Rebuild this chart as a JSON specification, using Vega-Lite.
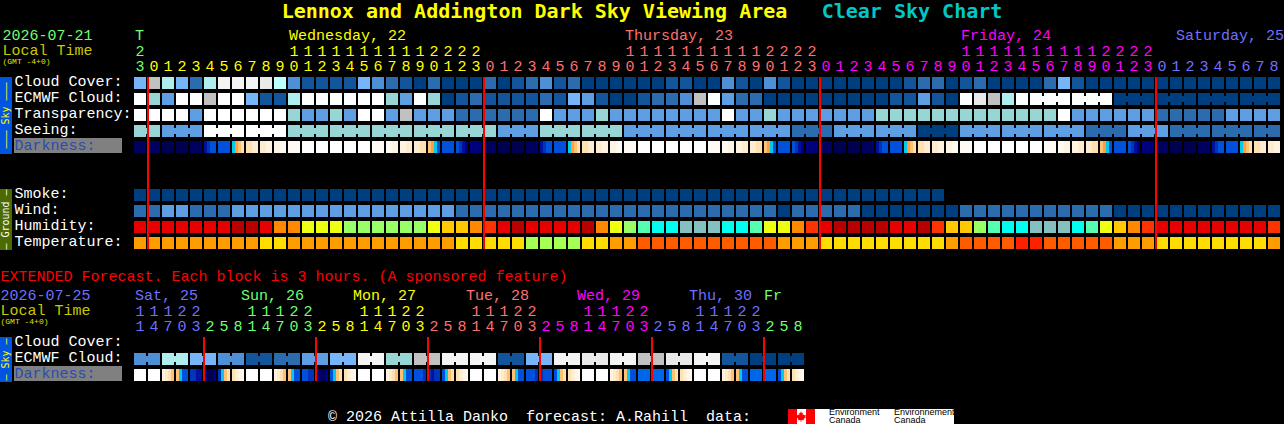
{"$schema":"https://vega.github.io/schema/vega-lite/v6.json","width":1284,"height":424,"padding":0,"autosize":"none","background":"#000000","config":{"view":{"stroke":null}},
"encoding":{"color":{"field":"level","type":"nominal","legend":null,"scale":{"domain":["a","b","c","d","e","f","g","h","i","w","x","y","z","r","R","O","A","Y","G","S","C","T","Q","t1","t2","t3","t4","t5","n0","n1","n2","n3","b1","b2","b3","k","o1","o2","c1","c2","c3","c4","lime","yellow","salmon","magenta","periw","red","cyan","gray","skybar","groundbar","white","ink"],"range":["#003f7f","#13559a","#2a6cad","#4e90d5","#5e9fe3","#76b6f8","#98d6d6","#aeeeee","#bdffff","#ffffff","#f4f4f4","#e9e9e9","#c1c1c1","#e60000","#b80000","#ff8800","#ffc800","#eeff10","#99ff66","#55ffb0","#00ffee","#84c0c0","#ff3300","#ff9c00","#ffdd00","#a6ff55","#ff5c00","#ff2000","#000050","#00005e","#00007e","#0010a0","#0050dc","#0034b8","#0066e8","#00c8f0","#ffa030","#ffc070","#ffe0b0","#ffecd0","#fff3e2","#fffaf3","#70ff70","#ffff00","#ff7070","#ff00ff","#7070ff","#ff0000","#00c8c8","#808080","#0055e0","#4d6a00","#ffffff","#000000"]}}},
"resolve":{"scale":{"x":"independent","y":"independent"}},
"layer":[
{"data":{"values":[{"label":"Darkness:","level":"gray"}]},"mark":"rect","encoding":{"x":{"field":"label","type":"nominal","axis":null,"scale":{"type":"band","range":[14,122],"padding":0}},"y":{"field":"label","type":"nominal","axis":null,"scale":{"type":"band","range":[138,153],"padding":0}}}},
{"data":{"values":[{"label":"Darkness:","level":"gray"}]},"mark":"rect","encoding":{"x":{"field":"label","type":"nominal","axis":null,"scale":{"type":"band","range":[14,122],"padding":0}},"y":{"field":"label","type":"nominal","axis":null,"scale":{"type":"band","range":[366,381],"padding":0}}}},
{"data":{"name":"main"},"mark":"rect","encoding":{"x":{"field":"col","type":"ordinal","scale":{"type":"band","range":[134,1280],"paddingInner":0.142857142857,"paddingOuter":0},"axis":{"orient":"top","offset":-65,"title":null,"domain":false,"ticks":false,"tickSize":0,"grid":false,"zindex":1,"labelAngle":0,"labelBaseline":"middle","labelAlign":"center","labelPadding":0,"labelFont":"Liberation Mono","labelFontSize":15,"labelOverlap":false,"labelExpr":"''+(((datum.value+23)%24)%10)","labelColor":{"condition":[{"test":"datum.value<1","value":"#70ff70"},{"test":"datum.value<25","value":"#ffff00"},{"test":"datum.value<49","value":"#ff7070"},{"test":"datum.value<73","value":"#ff00ff"}],"value":"#7070ff"}}},"y":{"field":"row","type":"nominal","scale":{"type":"band","domain":["cloud","ecmwf","transp","seeing","dark","gap1","gap2","smoke","wind","humid","temp"],"range":[77,249],"paddingInner":0.25,"paddingOuter":0},"axis":{"orient":"left","title":null,"domain":false,"ticks":false,"tickSize":0,"grid":false,"zindex":1,"labelAlign":"left","labelBaseline":"middle","labelPadding":-14,"labelOffset":-2,"labelFont":"Liberation Mono","labelFontSize":15,"labelOverlap":false,"values":["cloud","ecmwf","transp","seeing","dark","smoke","wind","humid","temp"],"labelExpr":"{'cloud':'Cloud Cover:','ecmwf':'ECMWF Cloud:','transp':'Transparency:','seeing':'Seeing:','dark':'Darkness:','smoke':'Smoke:','wind':'Wind:','humid':'Humidity:','temp':'Temperature:'}[datum.value]","labelColor":{"condition":{"test":"datum.value=='dark'","value":"#2a4bb0"},"value":"#ffffff"}}}}},
{"data":{"name":"mainSlices"},"mark":"rect","encoding":{"x":{"field":"col","type":"ordinal","scale":{"type":"band","domain":[0,1,2,3,4,5,6,7,8,9,10,11,12,13,14,15,16,17,18,19,20,21,22,23,24,25,26,27,28,29,30,31,32,33,34,35,36,37,38,39,40,41,42,43,44,45,46,47,48,49,50,51,52,53,54,55,56,57,58,59,60,61,62,63,64,65,66,67,68,69,70,71,72,73,74,75,76,77,78,79,80,81],"range":[134,1280],"paddingInner":0.142857142857,"paddingOuter":0},"axis":{"orient":"top","offset":-50,"title":null,"domain":false,"ticks":false,"tickSize":0,"grid":false,"zindex":1,"labelAngle":0,"labelBaseline":"middle","labelAlign":"center","labelPadding":0,"labelFont":"Liberation Mono","labelFontSize":15,"labelOverlap":false,"values":[0,11,12,13,14,15,16,17,18,19,20,21,22,23,24,35,36,37,38,39,40,41,42,43,44,45,46,47,48,59,60,61,62,63,64,65,66,67,68,69,70,71,72],"labelExpr":"''+floor(((datum.value+23)%24)/10)","labelColor":{"condition":[{"test":"datum.value<1","value":"#70ff70"},{"test":"datum.value<25","value":"#ffff00"},{"test":"datum.value<49","value":"#ff7070"},{"test":"datum.value<73","value":"#ff00ff"}],"value":"#7070ff"}}},"xOffset":{"field":"slice","type":"ordinal"},"y":{"datum":"dark","type":"nominal","axis":null,"scale":{"type":"band","domain":["dark"],"range":[141,153],"padding":0}}}},
{"data":{"name":"main"},"transform":[{"filter":"(datum.row=='seeing'&&datum.col%3!=1&&datum.col<81)||(datum.row=='ecmwf'&&datum.col>=64&&datum.col<81&&datum.col%3!=0)"}],"mark":{"type":"tick","orient":"vertical","thickness":2,"height":6,"opacity":1},"encoding":{"x":{"field":"col","type":"quantitative","axis":null,"scale":{"domain":[0,81],"range":[147,1281],"nice":false}},"y":{"field":"row","type":"nominal","axis":null,"scale":{"type":"band","domain":["cloud","ecmwf","transp","seeing","dark","gap1","gap2","smoke","wind","humid","temp"],"range":[77,249],"paddingInner":0.25,"paddingOuter":0}}}},
{"data":{"values":[{"col":1,"level":"red"},{"col":25,"level":"red"},{"col":49,"level":"red"},{"col":73,"level":"red"}]},"mark":{"type":"tick","orient":"vertical","thickness":2,"height":172,"opacity":1},"encoding":{"x":{"field":"col","type":"quantitative","axis":null,"scale":{"domain":[0,81],"range":[134,1268],"nice":false}},"y":{"datum":"main","type":"nominal","axis":null,"scale":{"type":"band","domain":["main"],"range":[77,249],"padding":0}}}},
{"data":{"name":"ext"},"mark":"rect","encoding":{"x":{"field":"col","type":"ordinal","scale":{"type":"band","domain":[0,1,2,3,4,5,6,7,8,9,10,11,12,13,14,15,16,17,18,19,20,21,22,23,24,25,26,27,28,29,30,31,32,33,34,35,36,37,38,39,40,41,42,43,44,45,46,47],"range":[134,804],"paddingInner":0.142857142857,"paddingOuter":0},"axis":{"orient":"top","offset":-325,"title":null,"domain":false,"ticks":false,"tickSize":0,"grid":false,"zindex":1,"labelAngle":0,"labelBaseline":"middle","labelAlign":"center","labelPadding":0,"labelFont":"Liberation Mono","labelFontSize":15,"labelOverlap":false,"labelExpr":"''+(((11+3*datum.value)%24)%10)","labelColor":{"condition":[{"test":"datum.value<5","value":"#7070ff"},{"test":"datum.value<13","value":"#70ff70"},{"test":"datum.value<21","value":"#ffff00"},{"test":"datum.value<29","value":"#ff7070"},{"test":"datum.value<37","value":"#ff00ff"},{"test":"datum.value<45","value":"#7070ff"}],"value":"#70ff70"}}},"y":{"field":"row","type":"nominal","scale":{"type":"band","domain":["cloud","ecmwf","dark"],"range":[337,381],"paddingInner":0.25,"paddingOuter":0},"axis":{"orient":"left","title":null,"domain":false,"ticks":false,"tickSize":0,"grid":false,"zindex":1,"labelAlign":"left","labelBaseline":"middle","labelPadding":-14,"labelOffset":-2,"labelFont":"Liberation Mono","labelFontSize":15,"labelOverlap":false,"labelExpr":"{'cloud':'Cloud Cover:','ecmwf':'ECMWF Cloud:','dark':'Darkness:'}[datum.value]","labelColor":{"condition":{"test":"datum.value=='dark'","value":"#2a4bb0"},"value":"#ffffff"}}}}},
{"data":{"name":"extSlices"},"mark":"rect","encoding":{"x":{"field":"col","type":"ordinal","scale":{"type":"band","domain":[0,1,2,3,4,5,6,7,8,9,10,11,12,13,14,15,16,17,18,19,20,21,22,23,24,25,26,27,28,29,30,31,32,33,34,35,36,37,38,39,40,41,42,43,44,45,46,47],"range":[134,804],"paddingInner":0.142857142857,"paddingOuter":0},"axis":{"orient":"top","offset":-310,"title":null,"domain":false,"ticks":false,"tickSize":0,"grid":false,"zindex":1,"labelAngle":0,"labelBaseline":"middle","labelAlign":"center","labelPadding":0,"labelFont":"Liberation Mono","labelFontSize":15,"labelOverlap":false,"values":[0,1,2,3,4,8,9,10,11,12,16,17,18,19,20,24,25,26,27,28,32,33,34,35,36,40,41,42,43,44],"labelExpr":"''+floor(((11+3*datum.value)%24)/10)","labelColor":{"condition":[{"test":"datum.value<5","value":"#7070ff"},{"test":"datum.value<13","value":"#70ff70"},{"test":"datum.value<21","value":"#ffff00"},{"test":"datum.value<29","value":"#ff7070"},{"test":"datum.value<37","value":"#ff00ff"},{"test":"datum.value<45","value":"#7070ff"}],"value":"#70ff70"}}},"xOffset":{"field":"slice","type":"ordinal"},"y":{"datum":"dark","type":"nominal","axis":null,"scale":{"type":"band","domain":["dark"],"range":[369,381],"padding":0}}}},
{"data":{"name":"ext"},"transform":[{"filter":"datum.row=='ecmwf'&&datum.col%2==0"}],"mark":{"type":"tick","orient":"vertical","thickness":2,"height":6,"opacity":1},"encoding":{"x":{"field":"col","type":"quantitative","axis":null,"scale":{"domain":[0,47],"range":[147,805],"nice":false}},"y":{"field":"row","type":"nominal","axis":null,"scale":{"type":"band","domain":["cloud","ecmwf","dark"],"range":[337,381],"paddingInner":0.25,"paddingOuter":0}}}},
{"data":{"values":[{"col":5,"level":"red"},{"col":13,"level":"red"},{"col":21,"level":"red"},{"col":29,"level":"red"},{"col":37,"level":"red"},{"col":45,"level":"red"}]},"mark":{"type":"tick","orient":"vertical","thickness":2,"height":44,"opacity":1},"encoding":{"x":{"field":"col","type":"quantitative","axis":null,"scale":{"domain":[0,47],"range":[134,792],"nice":false}},"y":{"datum":"ext","type":"nominal","axis":null,"scale":{"type":"band","domain":["ext"],"range":[337,381],"padding":0}}}},
{"data":{"values":[{"row":"day","col":0,"text":"T","level":"lime"},{"row":"day","col":11,"text":"Wednesday, 22","level":"yellow"},{"row":"day","col":35,"text":"Thursday, 23","level":"salmon"},{"row":"day","col":59,"text":"Friday, 24","level":"magenta"},{"row":"day","col":74.36,"text":"Saturday, 25","level":"periw"}]},"mark":{"type":"text","align":"left","baseline":"middle","font":"Liberation Mono","fontSize":15},"encoding":{"text":{"field":"text"},"x":{"field":"col","type":"quantitative","axis":null,"scale":{"domain":[0,81],"range":[135,1269],"nice":false}},"y":{"field":"row","type":"nominal","scale":{"type":"band","domain":["day","tens","ones"],"range":[27.5,72.5],"padding":0},"axis":{"orient":"left","title":null,"domain":false,"ticks":false,"tickSize":0,"grid":false,"zindex":1,"labelAlign":"left","labelBaseline":"middle","labelPadding":-2,"labelFont":"Liberation Mono","labelOverlap":false,"labelExpr":"{'day':'2026-07-21','tens':'Local Time','ones':'(GMT -4+0)'}[datum.value]","labelFontSize":{"condition":{"test":"datum.value=='ones'","value":8},"value":15},"labelOffset":{"condition":{"test":"datum.value=='ones'","value":-3},"value":0},"labelColor":{"condition":[{"test":"datum.value=='day'","value":"#70ff70"},{"test":"datum.value=='tens'","value":"#c8c800"}],"value":"#e0e000"}}}}},
{"data":{"values":[{"row":"day","col":0,"text":"Sat, 25","level":"periw"},{"row":"day","col":7.57,"text":"Sun, 26","level":"lime"},{"row":"day","col":15.57,"text":"Mon, 27","level":"yellow"},{"row":"day","col":23.64,"text":"Tue, 28","level":"salmon"},{"row":"day","col":31.57,"text":"Wed, 29","level":"magenta"},{"row":"day","col":39.57,"text":"Thu, 30","level":"periw"},{"row":"day","col":44.93,"text":"Fr","level":"lime"}]},"mark":{"type":"text","align":"left","baseline":"middle","font":"Liberation Mono","fontSize":15},"encoding":{"text":{"field":"text"},"x":{"field":"col","type":"quantitative","axis":null,"scale":{"domain":[0,47],"range":[135,793],"nice":false}},"y":{"field":"row","type":"nominal","scale":{"type":"band","domain":["note","day","tens","ones"],"range":[272.5,332.5],"padding":0},"axis":{"orient":"left","title":null,"domain":false,"ticks":false,"tickSize":0,"grid":false,"zindex":1,"labelAlign":"left","labelBaseline":"middle","labelPadding":0,"labelLimit":1000,"labelFont":"Liberation Mono","labelOverlap":false,"labelExpr":"{'note':'EXTENDED Forecast. Each block is 3 hours. (A sponsored feature)','day':'2026-07-25','tens':'Local Time','ones':'(GMT -4+0)'}[datum.value]","labelFontSize":{"condition":{"test":"datum.value=='ones'","value":8},"value":15},"labelOffset":{"condition":[{"test":"datum.value=='ones'","value":-3},{"test":"datum.value=='note'","value":-4}],"value":0},"labelColor":{"condition":[{"test":"datum.value=='note'","value":"#ff0000"},{"test":"datum.value=='day'","value":"#7070ff"},{"test":"datum.value=='tens'","value":"#c8c800"}],"value":"#e0e000"}}}}},
{"data":{"values":[{"text":"Lennox and Addington Dark Sky Viewing Area","level":"yellow"},{"text":"Clear Sky Chart","level":"cyan"}]},"mark":{"type":"text","baseline":"middle","font":"DejaVu Sans Mono","fontWeight":"bold","fontSize":20},"encoding":{"text":{"field":"text"},"x":{"field":"text","type":"nominal","axis":null,"scale":{"type":"point","domain":["Lennox and Addington Dark Sky Viewing Area","Clear Sky Chart"],"range":[534.5,912],"padding":0}},"y":{"datum":"title","type":"nominal","axis":null,"scale":{"type":"band","domain":["title"],"range":[0,24],"padding":0}}}},
{"data":{"values":[{"side":"sky","label":"––– Sky –––","level":"skybar","ink":"yellow"}]},"encoding":{"x":{"field":"side","type":"nominal","axis":null,"scale":{"type":"band","range":[0,12],"padding":0}},"y":{"field":"side","type":"nominal","axis":null,"scale":{"type":"band","range":[77,154],"padding":0}}},"layer":[{"mark":"rect"},{"mark":{"type":"text","angle":270,"align":"center","baseline":"middle","font":"DejaVu Sans Mono","fontSize":10},"encoding":{"text":{"field":"label"},"color":{"field":"ink","type":"nominal","legend":null}}}]},
{"data":{"values":[{"side":"ground","label":"– Ground –","level":"groundbar","ink":"white"}]},"encoding":{"x":{"field":"side","type":"nominal","axis":null,"scale":{"type":"band","range":[0,12],"padding":0}},"y":{"field":"side","type":"nominal","axis":null,"scale":{"type":"band","range":[189,250],"padding":0}}},"layer":[{"mark":"rect"},{"mark":{"type":"text","angle":270,"align":"center","baseline":"middle","font":"DejaVu Sans Mono","fontSize":10},"encoding":{"text":{"field":"label"},"color":{"field":"ink","type":"nominal","legend":null}}}]},
{"data":{"values":[{"side":"sky","label":"– Sky –","level":"skybar","ink":"yellow"}]},"encoding":{"x":{"field":"side","type":"nominal","axis":null,"scale":{"type":"band","range":[0,12],"padding":0}},"y":{"field":"side","type":"nominal","axis":null,"scale":{"type":"band","range":[337,382],"padding":0}}},"layer":[{"mark":"rect"},{"mark":{"type":"text","angle":270,"align":"center","baseline":"middle","font":"DejaVu Sans Mono","fontSize":10},"encoding":{"text":{"field":"label"},"color":{"field":"ink","type":"nominal","legend":null}}}]},
{"data":{"values":[{"text":"© 2026 Attilla Danko\u00a0\u00a0forecast: A.Rahill\u00a0\u00a0data:","level":"white"}]},"mark":{"type":"text","align":"center","baseline":"middle","font":"Liberation Mono","fontSize":15},"encoding":{"text":{"field":"text"},"x":{"field":"text","type":"nominal","axis":null,"scale":{"type":"band","range":[328,751],"padding":0}},"y":{"field":"text","type":"nominal","axis":null,"scale":{"type":"band","range":[404,427],"padding":0}}}},
{"data":{"values":[{"part":"logo","level":"white"}]},"mark":"rect","encoding":{"x":{"field":"part","type":"nominal","axis":null,"scale":{"type":"band","range":[788,954],"padding":0}},"y":{"field":"part","type":"nominal","axis":null,"scale":{"type":"band","range":[409,424],"padding":0}}}},
{"data":{"values":[{"part":"left","level":"red"},{"part":"right","level":"red"}]},"mark":"rect","encoding":{"x":{"field":"part","type":"nominal","axis":null,"scale":{"type":"band","domain":["left","middle","right"],"range":[788,815],"padding":0}},"y":{"datum":"flag","type":"nominal","axis":null,"scale":{"type":"band","domain":["flag"],"range":[409,424],"padding":0}}}},
{"data":{"values":[{"part":"leaf","level":"red"}]},"mark":{"type":"point","filled":true,"opacity":1,"size":110,"shape":"M0,-1 L.18,-.62 L.38,-.72 L.3,-.25 L.5,-.42 L.58,-.25 L.92,-.32 L.8,.02 L.95,.12 L.5,.5 L.58,.72 L.08,.66 L.08,1 L-.08,1 L-.08,.66 L-.58,.72 L-.5,.5 L-.95,.12 L-.8,.02 L-.92,-.32 L-.58,-.25 L-.5,-.42 L-.3,-.25 L-.38,-.72 L-.18,-.62 Z"},"encoding":{"x":{"field":"part","type":"nominal","axis":null,"scale":{"type":"band","range":[796,806],"padding":0}},"y":{"field":"part","type":"nominal","axis":null,"scale":{"type":"band","range":[411,422],"padding":0}}}},
{"data":{"values":[{"lang":"en","line":"top","text":"Environment","level":"ink"},{"lang":"en","line":"bottom","text":"Canada","level":"ink"},{"lang":"fr","line":"top","text":"Environnement","level":"ink"},{"lang":"fr","line":"bottom","text":"Canada","level":"ink"}]},"mark":{"type":"text","align":"left","baseline":"middle","font":"Liberation Sans","fontSize":9},"encoding":{"text":{"field":"text"},"x":{"field":"lang","type":"nominal","axis":null,"scale":{"type":"point","domain":["en","fr"],"range":[829,894],"padding":0}},"y":{"field":"line","type":"nominal","axis":null,"scale":{"type":"point","domain":["top","bottom"],"range":[412,420],"padding":0}}}}
],
"datasets":{
"main":[
{"row":"cloud","col":0,"level":"f"},{"row":"cloud","col":1,"level":"z"},{"row":"cloud","col":2,"level":"h"},{"row":"cloud","col":3,"level":"f"},{"row":"cloud","col":4,"level":"c"},{"row":"cloud","col":5,"level":"h"},{"row":"cloud","col":6,"level":"x"},{"row":"cloud","col":7,"level":"x"},{"row":"cloud","col":8,"level":"x"},{"row":"cloud","col":9,"level":"y"},{"row":"cloud","col":10,"level":"i"},{"row":"cloud","col":11,"level":"d"},{"row":"cloud","col":12,"level":"b"},{"row":"cloud","col":13,"level":"b"},{"row":"cloud","col":14,"level":"b"},{"row":"cloud","col":15,"level":"b"},{"row":"cloud","col":16,"level":"f"},{"row":"cloud","col":17,"level":"d"},{"row":"cloud","col":18,"level":"c"},{"row":"cloud","col":19,"level":"b"},{"row":"cloud","col":20,"level":"a"},{"row":"cloud","col":21,"level":"c"},{"row":"cloud","col":22,"level":"a"},{"row":"cloud","col":23,"level":"a"},{"row":"cloud","col":24,"level":"a"},{"row":"cloud","col":25,"level":"c"},{"row":"cloud","col":26,"level":"a"},{"row":"cloud","col":27,"level":"b"},{"row":"cloud","col":28,"level":"c"},{"row":"cloud","col":29,"level":"d"},{"row":"cloud","col":30,"level":"b"},{"row":"cloud","col":31,"level":"c"},{"row":"cloud","col":32,"level":"a"},{"row":"cloud","col":33,"level":"a"},{"row":"cloud","col":34,"level":"a"},{"row":"cloud","col":35,"level":"a"},{"row":"cloud","col":36,"level":"a"},{"row":"cloud","col":37,"level":"a"},{"row":"cloud","col":38,"level":"b"},{"row":"cloud","col":39,"level":"b"},{"row":"cloud","col":40,"level":"a"},{"row":"cloud","col":41,"level":"a"},{"row":"cloud","col":42,"level":"d"},{"row":"cloud","col":43,"level":"b"},{"row":"cloud","col":44,"level":"a"},{"row":"cloud","col":45,"level":"d"},{"row":"cloud","col":46,"level":"b"},{"row":"cloud","col":47,"level":"a"},{"row":"cloud","col":48,"level":"a"},{"row":"cloud","col":49,"level":"a"},{"row":"cloud","col":50,"level":"a"},{"row":"cloud","col":51,"level":"a"},{"row":"cloud","col":52,"level":"a"},{"row":"cloud","col":53,"level":"a"},{"row":"cloud","col":54,"level":"a"},{"row":"cloud","col":55,"level":"b"},{"row":"cloud","col":56,"level":"c"},{"row":"cloud","col":57,"level":"c"},{"row":"cloud","col":58,"level":"a"},{"row":"cloud","col":59,"level":"b"},{"row":"cloud","col":60,"level":"c"},{"row":"cloud","col":61,"level":"a"},{"row":"cloud","col":62,"level":"a"},{"row":"cloud","col":63,"level":"a"},{"row":"cloud","col":64,"level":"a"},{"row":"cloud","col":65,"level":"c"},{"row":"cloud","col":66,"level":"f"},{"row":"cloud","col":67,"level":"b"},{"row":"cloud","col":68,"level":"a"},{"row":"cloud","col":69,"level":"a"},{"row":"cloud","col":70,"level":"a"},{"row":"cloud","col":71,"level":"a"},{"row":"cloud","col":72,"level":"a"},{"row":"cloud","col":73,"level":"a"},{"row":"cloud","col":74,"level":"a"},{"row":"cloud","col":75,"level":"a"},{"row":"cloud","col":76,"level":"a"},{"row":"cloud","col":77,"level":"a"},{"row":"cloud","col":78,"level":"a"},{"row":"cloud","col":79,"level":"a"},{"row":"cloud","col":80,"level":"a"},{"row":"cloud","col":81,"level":"a"},
{"row":"ecmwf","col":0,"level":"w"},{"row":"ecmwf","col":1,"level":"g"},{"row":"ecmwf","col":2,"level":"e"},{"row":"ecmwf","col":3,"level":"w"},{"row":"ecmwf","col":4,"level":"w"},{"row":"ecmwf","col":5,"level":"z"},{"row":"ecmwf","col":6,"level":"w"},{"row":"ecmwf","col":7,"level":"w"},{"row":"ecmwf","col":8,"level":"f"},{"row":"ecmwf","col":9,"level":"b"},{"row":"ecmwf","col":10,"level":"b"},{"row":"ecmwf","col":11,"level":"h"},{"row":"ecmwf","col":12,"level":"w"},{"row":"ecmwf","col":13,"level":"w"},{"row":"ecmwf","col":14,"level":"w"},{"row":"ecmwf","col":15,"level":"w"},{"row":"ecmwf","col":16,"level":"w"},{"row":"ecmwf","col":17,"level":"w"},{"row":"ecmwf","col":18,"level":"g"},{"row":"ecmwf","col":19,"level":"e"},{"row":"ecmwf","col":20,"level":"w"},{"row":"ecmwf","col":21,"level":"g"},{"row":"ecmwf","col":22,"level":"a"},{"row":"ecmwf","col":23,"level":"b"},{"row":"ecmwf","col":24,"level":"c"},{"row":"ecmwf","col":25,"level":"b"},{"row":"ecmwf","col":26,"level":"b"},{"row":"ecmwf","col":27,"level":"b"},{"row":"ecmwf","col":28,"level":"b"},{"row":"ecmwf","col":29,"level":"c"},{"row":"ecmwf","col":30,"level":"b"},{"row":"ecmwf","col":31,"level":"f"},{"row":"ecmwf","col":32,"level":"e"},{"row":"ecmwf","col":33,"level":"b"},{"row":"ecmwf","col":34,"level":"a"},{"row":"ecmwf","col":35,"level":"a"},{"row":"ecmwf","col":36,"level":"b"},{"row":"ecmwf","col":37,"level":"c"},{"row":"ecmwf","col":38,"level":"c"},{"row":"ecmwf","col":39,"level":"d"},{"row":"ecmwf","col":40,"level":"z"},{"row":"ecmwf","col":41,"level":"w"},{"row":"ecmwf","col":42,"level":"e"},{"row":"ecmwf","col":43,"level":"c"},{"row":"ecmwf","col":44,"level":"c"},{"row":"ecmwf","col":45,"level":"a"},{"row":"ecmwf","col":46,"level":"a"},{"row":"ecmwf","col":47,"level":"a"},{"row":"ecmwf","col":48,"level":"a"},{"row":"ecmwf","col":49,"level":"a"},{"row":"ecmwf","col":50,"level":"a"},{"row":"ecmwf","col":51,"level":"a"},{"row":"ecmwf","col":52,"level":"a"},{"row":"ecmwf","col":53,"level":"a"},{"row":"ecmwf","col":54,"level":"b"},{"row":"ecmwf","col":55,"level":"b"},{"row":"ecmwf","col":56,"level":"e"},{"row":"ecmwf","col":57,"level":"b"},{"row":"ecmwf","col":58,"level":"a"},{"row":"ecmwf","col":59,"level":"w"},{"row":"ecmwf","col":60,"level":"y"},{"row":"ecmwf","col":61,"level":"z"},{"row":"ecmwf","col":62,"level":"h"},{"row":"ecmwf","col":63,"level":"w"},{"row":"ecmwf","col":64,"level":"w"},{"row":"ecmwf","col":65,"level":"w"},{"row":"ecmwf","col":66,"level":"w"},{"row":"ecmwf","col":67,"level":"w"},{"row":"ecmwf","col":68,"level":"w"},{"row":"ecmwf","col":69,"level":"w"},{"row":"ecmwf","col":70,"level":"a"},{"row":"ecmwf","col":71,"level":"a"},{"row":"ecmwf","col":72,"level":"a"},{"row":"ecmwf","col":73,"level":"a"},{"row":"ecmwf","col":74,"level":"a"},{"row":"ecmwf","col":75,"level":"a"},{"row":"ecmwf","col":76,"level":"a"},{"row":"ecmwf","col":77,"level":"a"},{"row":"ecmwf","col":78,"level":"a"},{"row":"ecmwf","col":79,"level":"a"},{"row":"ecmwf","col":80,"level":"a"},{"row":"ecmwf","col":81,"level":"a"},
{"row":"transp","col":0,"level":"w"},{"row":"transp","col":1,"level":"w"},{"row":"transp","col":2,"level":"w"},{"row":"transp","col":3,"level":"w"},{"row":"transp","col":4,"level":"e"},{"row":"transp","col":5,"level":"w"},{"row":"transp","col":6,"level":"w"},{"row":"transp","col":7,"level":"w"},{"row":"transp","col":8,"level":"w"},{"row":"transp","col":9,"level":"w"},{"row":"transp","col":10,"level":"w"},{"row":"transp","col":11,"level":"g"},{"row":"transp","col":12,"level":"e"},{"row":"transp","col":13,"level":"e"},{"row":"transp","col":14,"level":"g"},{"row":"transp","col":15,"level":"e"},{"row":"transp","col":16,"level":"w"},{"row":"transp","col":17,"level":"w"},{"row":"transp","col":18,"level":"e"},{"row":"transp","col":19,"level":"z"},{"row":"transp","col":20,"level":"e"},{"row":"transp","col":21,"level":"e"},{"row":"transp","col":22,"level":"e"},{"row":"transp","col":23,"level":"c"},{"row":"transp","col":24,"level":"c"},{"row":"transp","col":25,"level":"c"},{"row":"transp","col":26,"level":"c"},{"row":"transp","col":27,"level":"c"},{"row":"transp","col":28,"level":"c"},{"row":"transp","col":29,"level":"w"},{"row":"transp","col":30,"level":"e"},{"row":"transp","col":31,"level":"e"},{"row":"transp","col":32,"level":"e"},{"row":"transp","col":33,"level":"g"},{"row":"transp","col":34,"level":"e"},{"row":"transp","col":35,"level":"e"},{"row":"transp","col":36,"level":"e"},{"row":"transp","col":37,"level":"e"},{"row":"transp","col":38,"level":"e"},{"row":"transp","col":39,"level":"e"},{"row":"transp","col":40,"level":"e"},{"row":"transp","col":41,"level":"e"},{"row":"transp","col":42,"level":"w"},{"row":"transp","col":43,"level":"e"},{"row":"transp","col":44,"level":"e"},{"row":"transp","col":45,"level":"g"},{"row":"transp","col":46,"level":"e"},{"row":"transp","col":47,"level":"e"},{"row":"transp","col":48,"level":"e"},{"row":"transp","col":49,"level":"e"},{"row":"transp","col":50,"level":"e"},{"row":"transp","col":51,"level":"e"},{"row":"transp","col":52,"level":"e"},{"row":"transp","col":53,"level":"g"},{"row":"transp","col":54,"level":"g"},{"row":"transp","col":55,"level":"g"},{"row":"transp","col":56,"level":"g"},{"row":"transp","col":57,"level":"g"},{"row":"transp","col":58,"level":"g"},{"row":"transp","col":59,"level":"g"},{"row":"transp","col":60,"level":"g"},{"row":"transp","col":61,"level":"g"},{"row":"transp","col":62,"level":"g"},{"row":"transp","col":63,"level":"g"},{"row":"transp","col":64,"level":"g"},{"row":"transp","col":65,"level":"g"},{"row":"transp","col":66,"level":"w"},{"row":"transp","col":67,"level":"e"},{"row":"transp","col":68,"level":"e"},{"row":"transp","col":69,"level":"e"},{"row":"transp","col":70,"level":"e"},{"row":"transp","col":71,"level":"e"},{"row":"transp","col":72,"level":"e"},{"row":"transp","col":73,"level":"c"},{"row":"transp","col":74,"level":"c"},{"row":"transp","col":75,"level":"c"},{"row":"transp","col":76,"level":"c"},{"row":"transp","col":77,"level":"c"},{"row":"transp","col":78,"level":"e"},{"row":"transp","col":79,"level":"e"},{"row":"transp","col":80,"level":"e"},{"row":"transp","col":81,"level":"e"},
{"row":"seeing","col":0,"level":"g"},{"row":"seeing","col":1,"level":"g"},{"row":"seeing","col":2,"level":"e"},{"row":"seeing","col":3,"level":"e"},{"row":"seeing","col":4,"level":"e"},{"row":"seeing","col":5,"level":"w"},{"row":"seeing","col":6,"level":"w"},{"row":"seeing","col":7,"level":"w"},{"row":"seeing","col":8,"level":"w"},{"row":"seeing","col":9,"level":"w"},{"row":"seeing","col":10,"level":"w"},{"row":"seeing","col":11,"level":"g"},{"row":"seeing","col":12,"level":"g"},{"row":"seeing","col":13,"level":"g"},{"row":"seeing","col":14,"level":"g"},{"row":"seeing","col":15,"level":"g"},{"row":"seeing","col":16,"level":"g"},{"row":"seeing","col":17,"level":"g"},{"row":"seeing","col":18,"level":"g"},{"row":"seeing","col":19,"level":"g"},{"row":"seeing","col":20,"level":"g"},{"row":"seeing","col":21,"level":"g"},{"row":"seeing","col":22,"level":"g"},{"row":"seeing","col":23,"level":"g"},{"row":"seeing","col":24,"level":"g"},{"row":"seeing","col":25,"level":"g"},{"row":"seeing","col":26,"level":"e"},{"row":"seeing","col":27,"level":"e"},{"row":"seeing","col":28,"level":"e"},{"row":"seeing","col":29,"level":"g"},{"row":"seeing","col":30,"level":"g"},{"row":"seeing","col":31,"level":"g"},{"row":"seeing","col":32,"level":"g"},{"row":"seeing","col":33,"level":"g"},{"row":"seeing","col":34,"level":"g"},{"row":"seeing","col":35,"level":"e"},{"row":"seeing","col":36,"level":"e"},{"row":"seeing","col":37,"level":"e"},{"row":"seeing","col":38,"level":"e"},{"row":"seeing","col":39,"level":"e"},{"row":"seeing","col":40,"level":"e"},{"row":"seeing","col":41,"level":"e"},{"row":"seeing","col":42,"level":"e"},{"row":"seeing","col":43,"level":"e"},{"row":"seeing","col":44,"level":"e"},{"row":"seeing","col":45,"level":"e"},{"row":"seeing","col":46,"level":"e"},{"row":"seeing","col":47,"level":"c"},{"row":"seeing","col":48,"level":"c"},{"row":"seeing","col":49,"level":"c"},{"row":"seeing","col":50,"level":"e"},{"row":"seeing","col":51,"level":"e"},{"row":"seeing","col":52,"level":"e"},{"row":"seeing","col":53,"level":"e"},{"row":"seeing","col":54,"level":"e"},{"row":"seeing","col":55,"level":"e"},{"row":"seeing","col":56,"level":"a"},{"row":"seeing","col":57,"level":"a"},{"row":"seeing","col":58,"level":"a"},{"row":"seeing","col":59,"level":"e"},{"row":"seeing","col":60,"level":"e"},{"row":"seeing","col":61,"level":"e"},{"row":"seeing","col":62,"level":"e"},{"row":"seeing","col":63,"level":"e"},{"row":"seeing","col":64,"level":"e"},{"row":"seeing","col":65,"level":"e"},{"row":"seeing","col":66,"level":"e"},{"row":"seeing","col":67,"level":"e"},{"row":"seeing","col":68,"level":"c"},{"row":"seeing","col":69,"level":"c"},{"row":"seeing","col":70,"level":"c"},{"row":"seeing","col":71,"level":"e"},{"row":"seeing","col":72,"level":"e"},{"row":"seeing","col":73,"level":"e"},{"row":"seeing","col":74,"level":"c"},{"row":"seeing","col":75,"level":"c"},{"row":"seeing","col":76,"level":"c"},{"row":"seeing","col":77,"level":"c"},{"row":"seeing","col":78,"level":"c"},{"row":"seeing","col":79,"level":"c"},{"row":"seeing","col":80,"level":"c"},{"row":"seeing","col":81,"level":"c"},
{"row":"dark","col":0,"level":"n1"},{"row":"dark","col":1,"level":"n1"},{"row":"dark","col":2,"level":"n0"},{"row":"dark","col":3,"level":"n0"},{"row":"dark","col":4,"level":"n1"},{"row":"dark","col":6,"level":"b1"},{"row":"dark","col":11,"level":"c4"},{"row":"dark","col":12,"level":"w"},{"row":"dark","col":13,"level":"w"},{"row":"dark","col":14,"level":"w"},{"row":"dark","col":15,"level":"w"},{"row":"dark","col":16,"level":"w"},{"row":"dark","col":17,"level":"c4"},{"row":"dark","col":22,"level":"b1"},{"row":"dark","col":24,"level":"n2"},{"row":"dark","col":25,"level":"n1"},{"row":"dark","col":26,"level":"n0"},{"row":"dark","col":27,"level":"n0"},{"row":"dark","col":28,"level":"n1"},{"row":"dark","col":30,"level":"b1"},{"row":"dark","col":35,"level":"c4"},{"row":"dark","col":36,"level":"w"},{"row":"dark","col":37,"level":"w"},{"row":"dark","col":38,"level":"w"},{"row":"dark","col":39,"level":"w"},{"row":"dark","col":40,"level":"w"},{"row":"dark","col":41,"level":"c4"},{"row":"dark","col":46,"level":"b1"},{"row":"dark","col":48,"level":"n2"},{"row":"dark","col":49,"level":"n1"},{"row":"dark","col":50,"level":"n0"},{"row":"dark","col":51,"level":"n0"},{"row":"dark","col":52,"level":"n1"},{"row":"dark","col":54,"level":"b1"},{"row":"dark","col":59,"level":"c4"},{"row":"dark","col":60,"level":"w"},{"row":"dark","col":61,"level":"w"},{"row":"dark","col":62,"level":"w"},{"row":"dark","col":63,"level":"w"},{"row":"dark","col":64,"level":"w"},{"row":"dark","col":65,"level":"c4"},{"row":"dark","col":70,"level":"b1"},{"row":"dark","col":72,"level":"n2"},{"row":"dark","col":73,"level":"n1"},{"row":"dark","col":74,"level":"n0"},{"row":"dark","col":75,"level":"n0"},{"row":"dark","col":76,"level":"n1"},{"row":"dark","col":78,"level":"b1"},
{"row":"smoke","col":0,"level":"a"},{"row":"smoke","col":1,"level":"a"},{"row":"smoke","col":2,"level":"a"},{"row":"smoke","col":3,"level":"a"},{"row":"smoke","col":4,"level":"a"},{"row":"smoke","col":5,"level":"a"},{"row":"smoke","col":6,"level":"a"},{"row":"smoke","col":7,"level":"a"},{"row":"smoke","col":8,"level":"a"},{"row":"smoke","col":9,"level":"a"},{"row":"smoke","col":10,"level":"a"},{"row":"smoke","col":11,"level":"a"},{"row":"smoke","col":12,"level":"a"},{"row":"smoke","col":13,"level":"a"},{"row":"smoke","col":14,"level":"a"},{"row":"smoke","col":15,"level":"a"},{"row":"smoke","col":16,"level":"a"},{"row":"smoke","col":17,"level":"a"},{"row":"smoke","col":18,"level":"a"},{"row":"smoke","col":19,"level":"a"},{"row":"smoke","col":20,"level":"a"},{"row":"smoke","col":21,"level":"a"},{"row":"smoke","col":22,"level":"a"},{"row":"smoke","col":23,"level":"a"},{"row":"smoke","col":24,"level":"a"},{"row":"smoke","col":25,"level":"a"},{"row":"smoke","col":26,"level":"a"},{"row":"smoke","col":27,"level":"a"},{"row":"smoke","col":28,"level":"a"},{"row":"smoke","col":29,"level":"a"},{"row":"smoke","col":30,"level":"a"},{"row":"smoke","col":31,"level":"a"},{"row":"smoke","col":32,"level":"a"},{"row":"smoke","col":33,"level":"a"},{"row":"smoke","col":34,"level":"a"},{"row":"smoke","col":35,"level":"a"},{"row":"smoke","col":36,"level":"a"},{"row":"smoke","col":37,"level":"a"},{"row":"smoke","col":38,"level":"a"},{"row":"smoke","col":39,"level":"a"},{"row":"smoke","col":40,"level":"a"},{"row":"smoke","col":41,"level":"a"},{"row":"smoke","col":42,"level":"a"},{"row":"smoke","col":43,"level":"a"},{"row":"smoke","col":44,"level":"a"},{"row":"smoke","col":45,"level":"a"},{"row":"smoke","col":46,"level":"a"},{"row":"smoke","col":47,"level":"a"},{"row":"smoke","col":48,"level":"a"},{"row":"smoke","col":49,"level":"a"},{"row":"smoke","col":50,"level":"a"},{"row":"smoke","col":51,"level":"a"},{"row":"smoke","col":52,"level":"a"},{"row":"smoke","col":53,"level":"a"},{"row":"smoke","col":54,"level":"a"},{"row":"smoke","col":55,"level":"a"},{"row":"smoke","col":56,"level":"a"},{"row":"smoke","col":57,"level":"a"},
{"row":"wind","col":0,"level":"c"},{"row":"wind","col":1,"level":"c"},{"row":"wind","col":2,"level":"e"},{"row":"wind","col":3,"level":"e"},{"row":"wind","col":4,"level":"c"},{"row":"wind","col":5,"level":"c"},{"row":"wind","col":6,"level":"c"},{"row":"wind","col":7,"level":"e"},{"row":"wind","col":8,"level":"e"},{"row":"wind","col":9,"level":"e"},{"row":"wind","col":10,"level":"e"},{"row":"wind","col":11,"level":"e"},{"row":"wind","col":12,"level":"e"},{"row":"wind","col":13,"level":"e"},{"row":"wind","col":14,"level":"e"},{"row":"wind","col":15,"level":"e"},{"row":"wind","col":16,"level":"e"},{"row":"wind","col":17,"level":"e"},{"row":"wind","col":18,"level":"e"},{"row":"wind","col":19,"level":"e"},{"row":"wind","col":20,"level":"e"},{"row":"wind","col":21,"level":"e"},{"row":"wind","col":22,"level":"e"},{"row":"wind","col":23,"level":"c"},{"row":"wind","col":24,"level":"c"},{"row":"wind","col":25,"level":"c"},{"row":"wind","col":26,"level":"c"},{"row":"wind","col":27,"level":"c"},{"row":"wind","col":28,"level":"c"},{"row":"wind","col":29,"level":"c"},{"row":"wind","col":30,"level":"c"},{"row":"wind","col":31,"level":"c"},{"row":"wind","col":32,"level":"c"},{"row":"wind","col":33,"level":"c"},{"row":"wind","col":34,"level":"c"},{"row":"wind","col":35,"level":"c"},{"row":"wind","col":36,"level":"c"},{"row":"wind","col":37,"level":"c"},{"row":"wind","col":38,"level":"c"},{"row":"wind","col":39,"level":"c"},{"row":"wind","col":40,"level":"c"},{"row":"wind","col":41,"level":"c"},{"row":"wind","col":42,"level":"c"},{"row":"wind","col":43,"level":"c"},{"row":"wind","col":44,"level":"c"},{"row":"wind","col":45,"level":"c"},{"row":"wind","col":46,"level":"a"},{"row":"wind","col":47,"level":"c"},{"row":"wind","col":48,"level":"c"},{"row":"wind","col":49,"level":"c"},{"row":"wind","col":50,"level":"c"},{"row":"wind","col":51,"level":"c"},{"row":"wind","col":52,"level":"a"},{"row":"wind","col":53,"level":"a"},{"row":"wind","col":54,"level":"a"},{"row":"wind","col":55,"level":"a"},{"row":"wind","col":56,"level":"a"},{"row":"wind","col":57,"level":"a"},{"row":"wind","col":58,"level":"a"},{"row":"wind","col":59,"level":"c"},{"row":"wind","col":60,"level":"c"},{"row":"wind","col":61,"level":"c"},{"row":"wind","col":62,"level":"c"},{"row":"wind","col":63,"level":"c"},{"row":"wind","col":64,"level":"c"},{"row":"wind","col":65,"level":"c"},{"row":"wind","col":66,"level":"c"},{"row":"wind","col":67,"level":"c"},{"row":"wind","col":68,"level":"c"},{"row":"wind","col":69,"level":"c"},{"row":"wind","col":70,"level":"a"},{"row":"wind","col":71,"level":"a"},{"row":"wind","col":72,"level":"a"},{"row":"wind","col":73,"level":"a"},{"row":"wind","col":74,"level":"a"},{"row":"wind","col":75,"level":"a"},{"row":"wind","col":76,"level":"a"},{"row":"wind","col":77,"level":"a"},{"row":"wind","col":78,"level":"a"},{"row":"wind","col":79,"level":"a"},{"row":"wind","col":80,"level":"a"},{"row":"wind","col":81,"level":"a"},
{"row":"humid","col":0,"level":"r"},{"row":"humid","col":1,"level":"r"},{"row":"humid","col":2,"level":"r"},{"row":"humid","col":3,"level":"r"},{"row":"humid","col":4,"level":"r"},{"row":"humid","col":5,"level":"r"},{"row":"humid","col":6,"level":"r"},{"row":"humid","col":7,"level":"R"},{"row":"humid","col":8,"level":"R"},{"row":"humid","col":9,"level":"r"},{"row":"humid","col":10,"level":"O"},{"row":"humid","col":11,"level":"O"},{"row":"humid","col":12,"level":"Y"},{"row":"humid","col":13,"level":"Y"},{"row":"humid","col":14,"level":"Y"},{"row":"humid","col":15,"level":"G"},{"row":"humid","col":16,"level":"G"},{"row":"humid","col":17,"level":"G"},{"row":"humid","col":18,"level":"G"},{"row":"humid","col":19,"level":"G"},{"row":"humid","col":20,"level":"G"},{"row":"humid","col":21,"level":"Y"},{"row":"humid","col":22,"level":"A"},{"row":"humid","col":23,"level":"A"},{"row":"humid","col":24,"level":"O"},{"row":"humid","col":25,"level":"Q"},{"row":"humid","col":26,"level":"r"},{"row":"humid","col":27,"level":"R"},{"row":"humid","col":28,"level":"r"},{"row":"humid","col":29,"level":"r"},{"row":"humid","col":30,"level":"r"},{"row":"humid","col":31,"level":"r"},{"row":"humid","col":32,"level":"R"},{"row":"humid","col":33,"level":"O"},{"row":"humid","col":34,"level":"Y"},{"row":"humid","col":35,"level":"G"},{"row":"humid","col":36,"level":"S"},{"row":"humid","col":37,"level":"C"},{"row":"humid","col":38,"level":"C"},{"row":"humid","col":39,"level":"T"},{"row":"humid","col":40,"level":"T"},{"row":"humid","col":41,"level":"T"},{"row":"humid","col":42,"level":"C"},{"row":"humid","col":43,"level":"C"},{"row":"humid","col":44,"level":"S"},{"row":"humid","col":45,"level":"Y"},{"row":"humid","col":46,"level":"Y"},{"row":"humid","col":47,"level":"O"},{"row":"humid","col":48,"level":"Q"},{"row":"humid","col":49,"level":"r"},{"row":"humid","col":50,"level":"R"},{"row":"humid","col":51,"level":"R"},{"row":"humid","col":52,"level":"R"},{"row":"humid","col":53,"level":"R"},{"row":"humid","col":54,"level":"r"},{"row":"humid","col":55,"level":"r"},{"row":"humid","col":56,"level":"R"},{"row":"humid","col":57,"level":"Q"},{"row":"humid","col":58,"level":"A"},{"row":"humid","col":59,"level":"A"},{"row":"humid","col":60,"level":"G"},{"row":"humid","col":61,"level":"S"},{"row":"humid","col":62,"level":"C"},{"row":"humid","col":63,"level":"C"},{"row":"humid","col":64,"level":"T"},{"row":"humid","col":65,"level":"T"},{"row":"humid","col":66,"level":"T"},{"row":"humid","col":67,"level":"C"},{"row":"humid","col":68,"level":"S"},{"row":"humid","col":69,"level":"Y"},{"row":"humid","col":70,"level":"A"},{"row":"humid","col":71,"level":"O"},{"row":"humid","col":72,"level":"Q"},{"row":"humid","col":73,"level":"r"},{"row":"humid","col":74,"level":"r"},{"row":"humid","col":75,"level":"r"},{"row":"humid","col":76,"level":"r"},{"row":"humid","col":77,"level":"r"},{"row":"humid","col":78,"level":"r"},{"row":"humid","col":79,"level":"r"},{"row":"humid","col":80,"level":"r"},{"row":"humid","col":81,"level":"Q"},
{"row":"temp","col":0,"level":"t1"},{"row":"temp","col":1,"level":"t1"},{"row":"temp","col":2,"level":"t1"},{"row":"temp","col":3,"level":"t1"},{"row":"temp","col":4,"level":"t1"},{"row":"temp","col":5,"level":"t1"},{"row":"temp","col":6,"level":"t1"},{"row":"temp","col":7,"level":"t1"},{"row":"temp","col":8,"level":"t1"},{"row":"temp","col":9,"level":"t2"},{"row":"temp","col":10,"level":"t2"},{"row":"temp","col":11,"level":"t1"},{"row":"temp","col":12,"level":"t1"},{"row":"temp","col":13,"level":"t1"},{"row":"temp","col":14,"level":"t1"},{"row":"temp","col":15,"level":"t1"},{"row":"temp","col":16,"level":"t1"},{"row":"temp","col":17,"level":"t1"},{"row":"temp","col":18,"level":"t1"},{"row":"temp","col":19,"level":"t1"},{"row":"temp","col":20,"level":"t1"},{"row":"temp","col":21,"level":"t1"},{"row":"temp","col":22,"level":"t1"},{"row":"temp","col":23,"level":"t2"},{"row":"temp","col":24,"level":"t2"},{"row":"temp","col":25,"level":"t2"},{"row":"temp","col":26,"level":"t2"},{"row":"temp","col":27,"level":"t2"},{"row":"temp","col":28,"level":"t3"},{"row":"temp","col":29,"level":"t3"},{"row":"temp","col":30,"level":"t3"},{"row":"temp","col":31,"level":"t3"},{"row":"temp","col":32,"level":"t2"},{"row":"temp","col":33,"level":"t2"},{"row":"temp","col":34,"level":"t1"},{"row":"temp","col":35,"level":"t1"},{"row":"temp","col":36,"level":"t4"},{"row":"temp","col":37,"level":"t4"},{"row":"temp","col":38,"level":"t4"},{"row":"temp","col":39,"level":"t4"},{"row":"temp","col":40,"level":"t4"},{"row":"temp","col":41,"level":"t4"},{"row":"temp","col":42,"level":"t4"},{"row":"temp","col":43,"level":"t4"},{"row":"temp","col":44,"level":"t4"},{"row":"temp","col":45,"level":"t4"},{"row":"temp","col":46,"level":"t1"},{"row":"temp","col":47,"level":"t1"},{"row":"temp","col":48,"level":"t1"},{"row":"temp","col":49,"level":"t2"},{"row":"temp","col":50,"level":"t2"},{"row":"temp","col":51,"level":"t2"},{"row":"temp","col":52,"level":"t2"},{"row":"temp","col":53,"level":"t2"},{"row":"temp","col":54,"level":"t2"},{"row":"temp","col":55,"level":"t2"},{"row":"temp","col":56,"level":"t2"},{"row":"temp","col":57,"level":"t2"},{"row":"temp","col":58,"level":"t1"},{"row":"temp","col":59,"level":"t4"},{"row":"temp","col":60,"level":"t4"},{"row":"temp","col":61,"level":"t4"},{"row":"temp","col":62,"level":"t4"},{"row":"temp","col":63,"level":"t5"},{"row":"temp","col":64,"level":"t5"},{"row":"temp","col":65,"level":"t4"},{"row":"temp","col":66,"level":"t4"},{"row":"temp","col":67,"level":"t4"},{"row":"temp","col":68,"level":"t4"},{"row":"temp","col":69,"level":"t4"},{"row":"temp","col":70,"level":"t1"},{"row":"temp","col":71,"level":"t1"},{"row":"temp","col":72,"level":"t1"},{"row":"temp","col":73,"level":"t2"},{"row":"temp","col":74,"level":"t2"},{"row":"temp","col":75,"level":"t2"},{"row":"temp","col":76,"level":"t2"},{"row":"temp","col":77,"level":"t2"},{"row":"temp","col":78,"level":"t2"},{"row":"temp","col":79,"level":"t2"},{"row":"temp","col":80,"level":"t2"},{"row":"temp","col":81,"level":"t1"}
],
"mainSlices":[
{"col":5,"slice":0,"level":"n3"},{"col":5,"slice":1,"level":"b2"},{"col":5,"slice":2,"level":"b1"},{"col":5,"slice":3,"level":"b1"},{"col":29,"slice":0,"level":"n3"},{"col":29,"slice":1,"level":"b2"},{"col":29,"slice":2,"level":"b1"},{"col":29,"slice":3,"level":"b1"},{"col":53,"slice":0,"level":"n3"},{"col":53,"slice":1,"level":"b2"},{"col":53,"slice":2,"level":"b1"},{"col":53,"slice":3,"level":"b1"},{"col":77,"slice":0,"level":"n3"},{"col":77,"slice":1,"level":"b2"},{"col":77,"slice":2,"level":"b1"},{"col":77,"slice":3,"level":"b1"},
{"col":7,"slice":0,"level":"k"},{"col":7,"slice":1,"level":"o1"},{"col":7,"slice":2,"level":"o2"},{"col":7,"slice":3,"level":"c1"},{"col":31,"slice":0,"level":"k"},{"col":31,"slice":1,"level":"o1"},{"col":31,"slice":2,"level":"o2"},{"col":31,"slice":3,"level":"c1"},{"col":55,"slice":0,"level":"k"},{"col":55,"slice":1,"level":"o1"},{"col":55,"slice":2,"level":"o2"},{"col":55,"slice":3,"level":"c1"},{"col":79,"slice":0,"level":"k"},{"col":79,"slice":1,"level":"o1"},{"col":79,"slice":2,"level":"o2"},{"col":79,"slice":3,"level":"c1"},
{"col":8,"slice":0,"level":"c1"},{"col":8,"slice":1,"level":"c1"},{"col":8,"slice":2,"level":"c2"},{"col":8,"slice":3,"level":"c2"},{"col":32,"slice":0,"level":"c1"},{"col":32,"slice":1,"level":"c1"},{"col":32,"slice":2,"level":"c2"},{"col":32,"slice":3,"level":"c2"},{"col":56,"slice":0,"level":"c1"},{"col":56,"slice":1,"level":"c1"},{"col":56,"slice":2,"level":"c2"},{"col":56,"slice":3,"level":"c2"},{"col":80,"slice":0,"level":"c1"},{"col":80,"slice":1,"level":"c1"},{"col":80,"slice":2,"level":"c2"},{"col":80,"slice":3,"level":"c2"},
{"col":9,"slice":0,"level":"c2"},{"col":9,"slice":1,"level":"c2"},{"col":9,"slice":2,"level":"c3"},{"col":9,"slice":3,"level":"c3"},{"col":33,"slice":0,"level":"c2"},{"col":33,"slice":1,"level":"c2"},{"col":33,"slice":2,"level":"c3"},{"col":33,"slice":3,"level":"c3"},{"col":57,"slice":0,"level":"c2"},{"col":57,"slice":1,"level":"c2"},{"col":57,"slice":2,"level":"c3"},{"col":57,"slice":3,"level":"c3"},{"col":81,"slice":0,"level":"c2"},{"col":81,"slice":1,"level":"c2"},{"col":81,"slice":2,"level":"c3"},{"col":81,"slice":3,"level":"c3"},
{"col":10,"slice":0,"level":"c3"},{"col":10,"slice":1,"level":"c3"},{"col":10,"slice":2,"level":"c4"},{"col":10,"slice":3,"level":"c4"},{"col":34,"slice":0,"level":"c3"},{"col":34,"slice":1,"level":"c3"},{"col":34,"slice":2,"level":"c4"},{"col":34,"slice":3,"level":"c4"},{"col":58,"slice":0,"level":"c3"},{"col":58,"slice":1,"level":"c3"},{"col":58,"slice":2,"level":"c4"},{"col":58,"slice":3,"level":"c4"},
{"col":18,"slice":0,"level":"c4"},{"col":18,"slice":1,"level":"c4"},{"col":18,"slice":2,"level":"c3"},{"col":18,"slice":3,"level":"c3"},{"col":42,"slice":0,"level":"c4"},{"col":42,"slice":1,"level":"c4"},{"col":42,"slice":2,"level":"c3"},{"col":42,"slice":3,"level":"c3"},{"col":66,"slice":0,"level":"c4"},{"col":66,"slice":1,"level":"c4"},{"col":66,"slice":2,"level":"c3"},{"col":66,"slice":3,"level":"c3"},
{"col":19,"slice":0,"level":"c3"},{"col":19,"slice":1,"level":"c3"},{"col":19,"slice":2,"level":"c2"},{"col":19,"slice":3,"level":"c2"},{"col":43,"slice":0,"level":"c3"},{"col":43,"slice":1,"level":"c3"},{"col":43,"slice":2,"level":"c2"},{"col":43,"slice":3,"level":"c2"},{"col":67,"slice":0,"level":"c3"},{"col":67,"slice":1,"level":"c3"},{"col":67,"slice":2,"level":"c2"},{"col":67,"slice":3,"level":"c2"},
{"col":20,"slice":0,"level":"c2"},{"col":20,"slice":1,"level":"c2"},{"col":20,"slice":2,"level":"c1"},{"col":20,"slice":3,"level":"c1"},{"col":44,"slice":0,"level":"c2"},{"col":44,"slice":1,"level":"c2"},{"col":44,"slice":2,"level":"c1"},{"col":44,"slice":3,"level":"c1"},{"col":68,"slice":0,"level":"c2"},{"col":68,"slice":1,"level":"c2"},{"col":68,"slice":2,"level":"c1"},{"col":68,"slice":3,"level":"c1"},
{"col":21,"slice":0,"level":"o2"},{"col":21,"slice":1,"level":"o1"},{"col":21,"slice":2,"level":"k"},{"col":21,"slice":3,"level":"b1"},{"col":45,"slice":0,"level":"o2"},{"col":45,"slice":1,"level":"o1"},{"col":45,"slice":2,"level":"k"},{"col":45,"slice":3,"level":"b1"},{"col":69,"slice":0,"level":"o2"},{"col":69,"slice":1,"level":"o1"},{"col":69,"slice":2,"level":"k"},{"col":69,"slice":3,"level":"b1"},
{"col":23,"slice":0,"level":"b1"},{"col":23,"slice":1,"level":"b2"},{"col":23,"slice":2,"level":"n3"},{"col":23,"slice":3,"level":"n2"},{"col":47,"slice":0,"level":"b1"},{"col":47,"slice":1,"level":"b2"},{"col":47,"slice":2,"level":"n3"},{"col":47,"slice":3,"level":"n2"},{"col":71,"slice":0,"level":"b1"},{"col":71,"slice":1,"level":"b2"},{"col":71,"slice":2,"level":"n3"},{"col":71,"slice":3,"level":"n2"}
],
"ext":[
{"row":"ecmwf","col":0,"level":"d"},{"row":"ecmwf","col":1,"level":"d"},{"row":"ecmwf","col":2,"level":"h"},{"row":"ecmwf","col":3,"level":"h"},{"row":"ecmwf","col":4,"level":"f"},{"row":"ecmwf","col":5,"level":"f"},{"row":"ecmwf","col":6,"level":"d"},{"row":"ecmwf","col":7,"level":"d"},{"row":"ecmwf","col":8,"level":"b"},{"row":"ecmwf","col":9,"level":"b"},{"row":"ecmwf","col":10,"level":"c"},{"row":"ecmwf","col":11,"level":"c"},{"row":"ecmwf","col":12,"level":"e"},{"row":"ecmwf","col":13,"level":"e"},{"row":"ecmwf","col":14,"level":"f"},{"row":"ecmwf","col":15,"level":"f"},{"row":"ecmwf","col":16,"level":"x"},{"row":"ecmwf","col":17,"level":"x"},{"row":"ecmwf","col":18,"level":"g"},{"row":"ecmwf","col":19,"level":"g"},{"row":"ecmwf","col":20,"level":"z"},{"row":"ecmwf","col":21,"level":"z"},{"row":"ecmwf","col":22,"level":"x"},{"row":"ecmwf","col":23,"level":"x"},{"row":"ecmwf","col":24,"level":"x"},{"row":"ecmwf","col":25,"level":"x"},{"row":"ecmwf","col":26,"level":"b"},{"row":"ecmwf","col":27,"level":"b"},{"row":"ecmwf","col":28,"level":"f"},{"row":"ecmwf","col":29,"level":"f"},{"row":"ecmwf","col":30,"level":"x"},{"row":"ecmwf","col":31,"level":"x"},{"row":"ecmwf","col":32,"level":"y"},{"row":"ecmwf","col":33,"level":"y"},{"row":"ecmwf","col":34,"level":"x"},{"row":"ecmwf","col":35,"level":"x"},{"row":"ecmwf","col":36,"level":"z"},{"row":"ecmwf","col":37,"level":"z"},{"row":"ecmwf","col":38,"level":"y"},{"row":"ecmwf","col":39,"level":"y"},{"row":"ecmwf","col":40,"level":"x"},{"row":"ecmwf","col":41,"level":"x"},{"row":"ecmwf","col":42,"level":"b"},{"row":"ecmwf","col":43,"level":"b"},{"row":"ecmwf","col":44,"level":"a"},{"row":"ecmwf","col":45,"level":"a"},{"row":"ecmwf","col":46,"level":"a"},{"row":"ecmwf","col":47,"level":"a"},
{"row":"dark","col":0,"level":"w"},{"row":"dark","col":1,"level":"w"},{"row":"dark","col":8,"level":"w"},{"row":"dark","col":9,"level":"w"},{"row":"dark","col":16,"level":"w"},{"row":"dark","col":17,"level":"w"},{"row":"dark","col":24,"level":"w"},{"row":"dark","col":25,"level":"w"},{"row":"dark","col":32,"level":"w"},{"row":"dark","col":33,"level":"w"},{"row":"dark","col":36,"level":"b3"},{"row":"dark","col":37,"level":"b3"},{"row":"dark","col":40,"level":"w"},{"row":"dark","col":41,"level":"w"},{"row":"dark","col":44,"level":"b3"},{"row":"dark","col":45,"level":"b3"}
],
"extSlices":[
{"col":2,"slice":0,"level":"c3"},{"col":2,"slice":1,"level":"c2"},{"col":2,"slice":2,"level":"c1"},{"col":2,"slice":3,"level":"o2"},{"col":3,"slice":0,"level":"o2"},{"col":3,"slice":1,"level":"k"},{"col":3,"slice":2,"level":"b1"},{"col":3,"slice":3,"level":"b1"},{"col":4,"slice":0,"level":"b2"},{"col":4,"slice":1,"level":"b2"},{"col":4,"slice":2,"level":"n3"},{"col":4,"slice":3,"level":"n3"},{"col":5,"slice":0,"level":"n2"},{"col":5,"slice":1,"level":"n0"},{"col":5,"slice":2,"level":"n0"},{"col":5,"slice":3,"level":"n2"},{"col":6,"slice":0,"level":"b2"},{"col":6,"slice":1,"level":"k"},{"col":6,"slice":2,"level":"o2"},{"col":6,"slice":3,"level":"c1"},{"col":7,"slice":0,"level":"c1"},{"col":7,"slice":1,"level":"c2"},{"col":7,"slice":2,"level":"c3"},{"col":7,"slice":3,"level":"c4"},
{"col":10,"slice":0,"level":"c3"},{"col":10,"slice":1,"level":"c2"},{"col":10,"slice":2,"level":"c1"},{"col":10,"slice":3,"level":"o2"},{"col":11,"slice":0,"level":"o2"},{"col":11,"slice":1,"level":"k"},{"col":11,"slice":2,"level":"b1"},{"col":11,"slice":3,"level":"b1"},{"col":12,"slice":0,"level":"b1"},{"col":12,"slice":1,"level":"b1"},{"col":12,"slice":2,"level":"b2"},{"col":12,"slice":3,"level":"b2"},{"col":13,"slice":0,"level":"n2"},{"col":13,"slice":1,"level":"n1"},{"col":13,"slice":2,"level":"n1"},{"col":13,"slice":3,"level":"n2"},{"col":14,"slice":0,"level":"b1"},{"col":14,"slice":1,"level":"k"},{"col":14,"slice":2,"level":"o2"},{"col":14,"slice":3,"level":"c1"},{"col":15,"slice":0,"level":"c1"},{"col":15,"slice":1,"level":"c2"},{"col":15,"slice":2,"level":"c3"},{"col":15,"slice":3,"level":"c4"},
{"col":18,"slice":0,"level":"c3"},{"col":18,"slice":1,"level":"c2"},{"col":18,"slice":2,"level":"c1"},{"col":18,"slice":3,"level":"o2"},{"col":19,"slice":0,"level":"o2"},{"col":19,"slice":1,"level":"k"},{"col":19,"slice":2,"level":"b1"},{"col":19,"slice":3,"level":"b1"},{"col":20,"slice":0,"level":"b1"},{"col":20,"slice":1,"level":"b1"},{"col":20,"slice":2,"level":"b1"},{"col":20,"slice":3,"level":"b2"},{"col":21,"slice":0,"level":"b2"},{"col":21,"slice":1,"level":"n3"},{"col":21,"slice":2,"level":"b2"},{"col":21,"slice":3,"level":"b2"},{"col":22,"slice":0,"level":"b1"},{"col":22,"slice":1,"level":"k"},{"col":22,"slice":2,"level":"o2"},{"col":22,"slice":3,"level":"c1"},{"col":23,"slice":0,"level":"c1"},{"col":23,"slice":1,"level":"c2"},{"col":23,"slice":2,"level":"c3"},{"col":23,"slice":3,"level":"c4"},
{"col":26,"slice":0,"level":"c3"},{"col":26,"slice":1,"level":"c2"},{"col":26,"slice":2,"level":"c1"},{"col":26,"slice":3,"level":"o2"},{"col":27,"slice":0,"level":"o2"},{"col":27,"slice":1,"level":"k"},{"col":27,"slice":2,"level":"b1"},{"col":27,"slice":3,"level":"b1"},{"col":28,"slice":0,"level":"b1"},{"col":28,"slice":1,"level":"b1"},{"col":28,"slice":2,"level":"b1"},{"col":28,"slice":3,"level":"b2"},{"col":29,"slice":0,"level":"b2"},{"col":29,"slice":1,"level":"b1"},{"col":29,"slice":2,"level":"b1"},{"col":29,"slice":3,"level":"b1"},{"col":30,"slice":0,"level":"b1"},{"col":30,"slice":1,"level":"k"},{"col":30,"slice":2,"level":"o2"},{"col":30,"slice":3,"level":"c1"},{"col":31,"slice":0,"level":"c1"},{"col":31,"slice":1,"level":"c2"},{"col":31,"slice":2,"level":"c3"},{"col":31,"slice":3,"level":"c4"},
{"col":34,"slice":0,"level":"c3"},{"col":34,"slice":1,"level":"c2"},{"col":34,"slice":2,"level":"c1"},{"col":34,"slice":3,"level":"o2"},{"col":35,"slice":0,"level":"o2"},{"col":35,"slice":1,"level":"k"},{"col":35,"slice":2,"level":"b1"},{"col":35,"slice":3,"level":"b1"},{"col":38,"slice":0,"level":"b1"},{"col":38,"slice":1,"level":"k"},{"col":38,"slice":2,"level":"o2"},{"col":38,"slice":3,"level":"c1"},{"col":39,"slice":0,"level":"c1"},{"col":39,"slice":1,"level":"c2"},{"col":39,"slice":2,"level":"c3"},{"col":39,"slice":3,"level":"c4"},
{"col":42,"slice":0,"level":"c3"},{"col":42,"slice":1,"level":"c2"},{"col":42,"slice":2,"level":"c1"},{"col":42,"slice":3,"level":"o2"},{"col":43,"slice":0,"level":"o2"},{"col":43,"slice":1,"level":"k"},{"col":43,"slice":2,"level":"b1"},{"col":43,"slice":3,"level":"b1"},{"col":46,"slice":0,"level":"b1"},{"col":46,"slice":1,"level":"k"},{"col":46,"slice":2,"level":"o2"},{"col":46,"slice":3,"level":"c1"},{"col":47,"slice":0,"level":"c1"},{"col":47,"slice":1,"level":"c2"},{"col":47,"slice":2,"level":"c3"},{"col":47,"slice":3,"level":"c4"}
]
}}
